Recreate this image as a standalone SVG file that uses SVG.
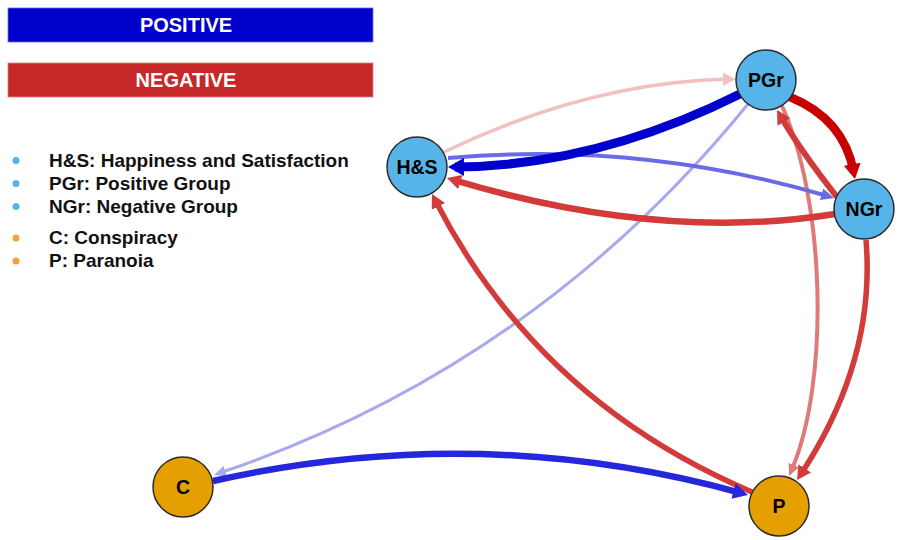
<svg xmlns="http://www.w3.org/2000/svg" width="899" height="540" viewBox="0 0 899 540">
<style>
.edge{fill:none;stroke-linecap:butt}
.node circle{stroke:#2b2b2b;stroke-width:1.5}
.blueN{fill:#56B4E9}
.orangeN{fill:#E69F00}
.nlabel{font-family:"Liberation Sans",Arial,sans-serif;font-weight:bold;font-size:19.5px;fill:#000;text-anchor:middle}
.bar{font-family:"Liberation Sans",Arial,sans-serif;font-weight:bold;font-size:20px;fill:#fff;text-anchor:middle}
.leg{font-family:"Liberation Sans",Arial,sans-serif;font-weight:bold;font-size:19px;fill:#111}
</style>
<defs>
<marker id="mBlueDark" markerUnits="userSpaceOnUse" markerWidth="16" markerHeight="18" viewBox="0 0 16 18" refX="9" refY="9" orient="auto"><path d="M0,0 L16,9 L0,18 z" fill="#0000CC"/></marker>
<marker id="mBlueMed" markerUnits="userSpaceOnUse" markerWidth="13" markerHeight="12" viewBox="0 0 13 12" refX="6" refY="6" orient="auto"><path d="M0,0 L13,6 L0,12 z" fill="#6A6AE6"/></marker>
<marker id="mBlueLight" markerUnits="userSpaceOnUse" markerWidth="12" markerHeight="11" viewBox="0 0 12 11" refX="5" refY="5.5" orient="auto"><path d="M0,0 L12,5.5 L0,11 z" fill="#A9A9EE"/></marker>
<marker id="mBlueC" markerUnits="userSpaceOnUse" markerWidth="15" markerHeight="16" viewBox="0 0 15 16" refX="8" refY="8" orient="auto"><path d="M0,0 L15,8 L0,16 z" fill="#2626DA"/></marker>
<marker id="mRedDark" markerUnits="userSpaceOnUse" markerWidth="15" markerHeight="17" viewBox="0 0 15 17" refX="8" refY="8.5" orient="auto"><path d="M0,0 L15,8.5 L0,17 z" fill="#C80000"/></marker>
<marker id="mRed" markerUnits="userSpaceOnUse" markerWidth="14" markerHeight="15" viewBox="0 0 14 15" refX="7" refY="7.5" orient="auto"><path d="M0,0 L14,7.5 L0,15 z" fill="#D33A3A"/></marker>
<marker id="mRedLight" markerUnits="userSpaceOnUse" markerWidth="12" markerHeight="11" viewBox="0 0 12 11" refX="5" refY="5.5" orient="auto"><path d="M0,0 L12,5.5 L0,11 z" fill="#E07A7A"/></marker>
<marker id="mRedPale" markerUnits="userSpaceOnUse" markerWidth="13" markerHeight="13" viewBox="0 0 13 13" refX="6" refY="6.5" orient="auto"><path d="M0,0 L13,6.5 L0,13 z" fill="#F2C0C0"/></marker>
</defs>
<rect width="899" height="540" fill="#fff"/>
<g id="legend">
<rect x="8" y="8" width="365" height="34" fill="#0000CC" stroke="#6e6ee6" stroke-width="0.8"/>
<text class="bar" x="186" y="32">POSITIVE</text>
<rect x="8" y="63" width="365" height="34" fill="#C62828" stroke="#e08080" stroke-width="0.8"/>
<text class="bar" x="186" y="87">NEGATIVE</text>
<circle cx="16" cy="160.5" r="3.5" fill="#56B4E9"/>
<circle cx="16" cy="183.5" r="3.5" fill="#56B4E9"/>
<circle cx="16" cy="206.5" r="3.5" fill="#56B4E9"/>
<circle cx="16" cy="238" r="3.5" fill="#F5A33A"/>
<circle cx="16" cy="261" r="3.5" fill="#F5A33A"/>
<text class="leg" x="49" y="166.5">H&amp;S: Happiness and Satisfaction</text>
<text class="leg" x="49" y="189.5">PGr: Positive Group</text>
<text class="leg" x="49" y="212.5">NGr: Negative Group</text>
<text class="leg" x="49" y="243.5">C: Conspiracy</text>
<text class="leg" x="49" y="266.5">P: Paranoia</text>
</g>
<g id="connectors">
<path id="e_HS_PGr" class="edge" d="M444,152 Q590,82 729,79.1" stroke="#F2C0C0" stroke-width="3.5" marker-end="url(#mRedPale)"/>
<path id="e_PGr_C" class="edge" d="M748,104 Q535,366 220.6,472.7" stroke="#A9A9EE" stroke-width="3" marker-end="url(#mBlueLight)"/>
<path id="e_PGr_P" class="edge" d="M782,106 C825,200 830,380 791.8,469.6" stroke="#E07A7A" stroke-width="4" marker-end="url(#mRedLight)"/>
<path id="e_P_HS" class="edge" d="M752,492 Q538,401 435.2,200.2" stroke="#D33A3A" stroke-width="5.5" marker-end="url(#mRed)"/>
<path id="e_NGr_HS" class="edge" d="M835,214 Q660,242 453.7,180" stroke="#D33A3A" stroke-width="6.5" marker-end="url(#mRed)"/>
<path id="e_HS_NGr" class="edge" d="M448,158 Q641,141 827.3,196" stroke="#6A6AE6" stroke-width="4" marker-end="url(#mBlueMed)"/>
<path id="e_PGr_HS" class="edge" d="M740,94 Q596,166 455,167" stroke="#0000CC" stroke-width="9" marker-end="url(#mBlueDark)"/>
<path id="e_NGr_PGr" class="edge" d="M837,197 Q800,150 780.5,116" stroke="#D33A3A" stroke-width="6" marker-end="url(#mRed)"/>
<path id="e_PGr_NGr" class="edge" d="M790,97 Q844,119 853.7,172.1" stroke="#C80000" stroke-width="8.5" marker-end="url(#mRedDark)"/>
<path id="e_NGr_P" class="edge" d="M866,240 Q876,360 800.9,474.2" stroke="#D33A3A" stroke-width="5.5" marker-end="url(#mRed)"/>
<path id="e_C_P" class="edge" d="M213,481 Q480,421 741.2,493.1" stroke="#2626DA" stroke-width="6.5" marker-end="url(#mBlueC)"/>
</g>
<g id="node_HS" class="node"><circle class="blueN" cx="417" cy="167" r="30"/><text class="nlabel" x="417" y="174">H&amp;S</text></g>
<g id="node_PGr" class="node"><circle class="blueN" cx="766" cy="80" r="30"/><text class="nlabel" x="766" y="87">PGr</text></g>
<g id="node_NGr" class="node"><circle class="blueN" cx="864" cy="209" r="30"/><text class="nlabel" x="864" y="216">NGr</text></g>
<g id="node_C" class="node"><circle class="orangeN" cx="183" cy="487" r="30"/><text class="nlabel" x="183" y="494">C</text></g>
<g id="node_P" class="node"><circle class="orangeN" cx="779" cy="506" r="30"/><text class="nlabel" x="779" y="513">P</text></g>
</svg>
